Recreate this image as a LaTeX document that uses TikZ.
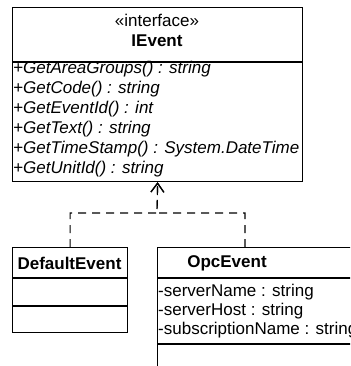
\documentclass[tikz,border=0pt]{standalone}
\usepackage{fontspec}
\setmainfont{Liberation Sans}
\usetikzlibrary{arrows.meta,positioning}

\tikzset{
  classbox/.style={draw, line width=1.2pt, anchor=north west, inner sep=0pt},
  txt/.style={inner sep=0pt, font=\fontsize{17}{20}\selectfont},
  member/.style={txt, anchor=west},
  realize/.style={line width=1.2pt, dash pattern=on 8pt off 6pt,
    -{Straight Barb[length=9pt,width=13pt,line width=1.2pt]}},
}

\begin{document}
\begin{tikzpicture}[x=1pt,y=-1pt]
  \useasboundingbox (0,0) rectangle (350,366);
  \clip (0,0) rectangle (350,366);
  % interface
  \node[classbox, minimum width=290pt, minimum height=174pt] (ievent) at (12,7) {};
  \draw[line width=1.2pt] (12,62) -- (302,62);
  \node[txt] (stereo) at (157,20) {«interface»};
  \node[txt, font=\fontsize{17}{20}\selectfont\bfseries] (iname) at (157,41) {IEvent};
  \node[member] (m1) at (13,69) {\itshape +GetAreaGroups() : string};
  \node[member] (m2) at (13,89) {\itshape +GetCode() : string};
  \node[member] (m3) at (13,109) {\itshape +GetEventId() : int};
  \node[member] (m4) at (13,129) {\itshape +GetText() : string};
  \node[member] (m5) at (13,149) {\itshape +GetTimeStamp() : System.DateTime};
  \node[member] (m6) at (13,169) {\itshape +GetUnitId() : string};

  % DefaultEvent
  \node[classbox, minimum width=115pt, minimum height=85pt] (default) at (12,247) {};
  \draw[line width=1.2pt] (12,278) -- (127,278);
  \draw[line width=1.2pt] (12,306) -- (127,306);
  \node[txt, font=\fontsize{17}{20}\selectfont\bfseries] (dname) at (69.5,263) {DefaultEvent};

  % OpcEvent
  \node[classbox, minimum width=250pt, minimum height=160pt] (opc) at (157,247) {};
  \draw[line width=1.2pt] (157,278) -- (407,278);
  \draw[line width=1.2pt] (157,344) -- (407,344);
  \node[txt, font=\fontsize{17}{20}\selectfont\bfseries] (oname) at (227,263) {OpcEvent};
  \node[member] (a1) at (158,292) {-serverName : string};
  \node[member] (a2) at (158,311) {-serverHost : string};
  \node[member] (a3) at (158,330) {-subscriptionName : string};

  % realizations
  \coordinate (join) at (157,213);
  \coordinate (opctop) at (245,247);
  \draw[realize] (default.north) |- (join) -- (ievent.south);
  \draw[realize] (opctop) |- (join) -- (ievent.south);
\end{tikzpicture}
\end{document}
